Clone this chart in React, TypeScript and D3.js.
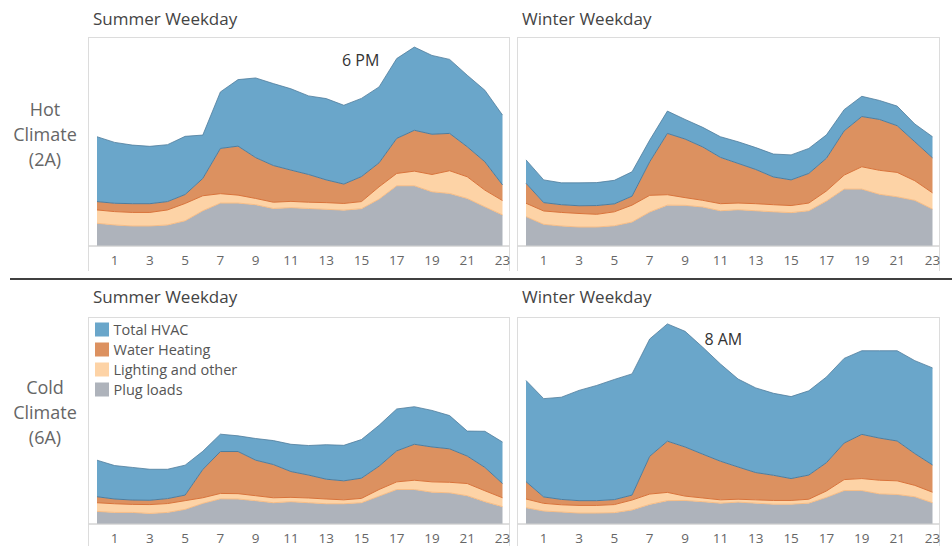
import React, { useRef, useEffect } from "react";
import { select, scaleLinear, stack, area, line } from "d3";

// hours of the day (x axis)
const hours = [0, 1, 2, 3, 4, 5, 6, 7, 8, 9, 10, 11, 12, 13, 14, 15, 16, 17, 18, 19, 20, 21, 22, 23];
const tickHours = [1, 3, 5, 7, 9, 11, 13, 15, 17, 19, 21, 23];

const columnTitles = ["Summer Weekday", "Winter Weekday"];
const rowLabels = [
  ["Hot", "Climate", "(2A)"],
  ["Cold", "Climate", "(6A)"],
];

// stacking order bottom -> top, legend order top -> bottom
const seriesKeys = ["plug", "light", "water", "hvac"];
const legendNames = ["Total HVAC", "Water Heating", "Lighting and other", "Plug loads"];

// Hot climate, summer weekday
const hotSummerPlug = [10.9, 10.1, 9.6, 9.6, 10.1, 12.1, 16.9, 20.6, 20.6, 19.8, 18.0, 18.4, 18.0, 17.6, 17.2, 17.9, 22.5, 28.9, 28.9, 26.0, 25.2, 22.8, 18.8, 14.9];
const hotSummerLight = [6.4, 6.4, 6.5, 6.5, 7.2, 8.3, 7.2, 4.5, 3.8, 3.0, 3.0, 3.0, 3.0, 3.2, 3.2, 3.4, 5.9, 5.9, 7.0, 8.3, 10.9, 10.4, 8.0, 6.9];
const hotSummerWater = [4.0, 4.0, 4.2, 4.2, 4.0, 4.3, 8.3, 21.7, 23.5, 19.6, 17.6, 15.0, 13.3, 10.9, 9.3, 12.0, 11.5, 16.8, 19.6, 19.3, 17.9, 14.4, 13.6, 7.5];
const hotSummerHvac = [31.1, 29.2, 28.1, 27.5, 27.3, 27.9, 20.8, 27.1, 31.9, 38.2, 39.3, 39.0, 37.7, 39.0, 37.8, 37.5, 36.4, 38.3, 39.9, 37.8, 35.5, 34.3, 34.3, 33.5];

// Hot climate, winter weekday
const hotWinterPlug = [14.1, 10.4, 9.6, 9.1, 9.1, 9.7, 11.5, 16.3, 19.6, 19.5, 18.7, 16.9, 17.4, 16.9, 16.4, 16.0, 16.9, 21.6, 27.3, 27.3, 24.8, 23.6, 21.9, 17.7];
const hotWinterLight = [6.4, 6.4, 6.5, 6.5, 6.1, 6.7, 8.1, 8.0, 5.0, 3.7, 3.2, 3.4, 3.2, 3.4, 3.4, 3.4, 3.7, 4.8, 6.7, 10.7, 11.5, 11.7, 9.4, 7.8];
const hotWinterWater = [9.6, 4.0, 3.7, 3.7, 4.2, 3.8, 4.3, 16.1, 29.4, 28.1, 25.6, 22.2, 19.0, 16.4, 13.3, 12.3, 14.2, 15.7, 21.2, 24.1, 24.4, 22.4, 18.7, 16.8];
const hotWinterHvac = [11.2, 10.9, 10.5, 11.0, 11.0, 11.3, 11.7, 10.4, 10.7, 9.4, 9.4, 9.9, 10.4, 10.5, 11.0, 12.0, 12.0, 11.2, 10.2, 9.7, 9.1, 9.4, 8.5, 10.1];

// Cold climate, summer weekday
const coldSummerPlug = [6.1, 5.6, 5.6, 5.1, 5.6, 7.1, 10.0, 12.2, 12.1, 11.3, 10.3, 10.8, 10.3, 9.8, 9.8, 10.3, 13.5, 16.7, 16.7, 15.4, 15.1, 13.7, 10.8, 8.4];
const coldSummerLight = [4.2, 4.2, 3.9, 4.3, 4.3, 4.2, 2.7, 2.6, 2.6, 2.4, 2.4, 2.1, 2.3, 2.3, 1.9, 2.1, 3.2, 3.7, 4.5, 5.0, 5.1, 5.9, 5.3, 4.3];
const coldSummerWater = [2.9, 2.3, 2.1, 2.1, 2.4, 2.7, 13.7, 20.3, 20.4, 17.2, 16.1, 12.5, 11.1, 9.6, 9.2, 9.8, 11.3, 15.0, 17.4, 16.9, 16.2, 13.3, 11.3, 6.9];
const coldSummerHvac = [17.7, 16.2, 15.8, 15.0, 14.2, 14.5, 8.8, 8.4, 7.6, 10.5, 11.6, 13.2, 14.3, 16.7, 17.2, 18.7, 19.8, 20.3, 18.2, 17.7, 16.1, 12.1, 17.5, 20.1];

// Cold climate, winter weekday
const coldWinterPlug = [7.9, 6.3, 5.8, 5.3, 5.3, 5.5, 6.8, 9.5, 11.3, 11.4, 10.8, 10.1, 10.6, 10.1, 9.6, 9.6, 10.1, 12.9, 16.2, 16.2, 14.6, 14.3, 13.2, 10.3];
const coldWinterLight = [4.2, 3.7, 3.5, 3.7, 3.7, 3.9, 4.8, 5.0, 4.0, 2.1, 1.8, 1.6, 1.4, 1.6, 1.8, 1.8, 1.9, 3.1, 5.3, 5.8, 6.6, 6.6, 5.5, 5.1];
const coldWinterWater = [8.4, 3.1, 2.6, 2.3, 2.3, 2.4, 2.4, 18.3, 24.8, 23.8, 21.2, 18.7, 15.6, 13.2, 12.2, 10.6, 11.7, 13.7, 17.7, 21.4, 20.4, 19.3, 15.4, 13.2];
const coldWinterHvac = [49.0, 47.6, 49.5, 53.4, 55.8, 58.2, 58.7, 56.8, 56.8, 56.0, 51.8, 47.1, 42.6, 41.0, 39.7, 39.7, 40.8, 41.5, 41.0, 40.5, 42.3, 43.7, 45.0, 47.0];

const panels = [
  { row: 0, col: 0, plug: hotSummerPlug, light: hotSummerLight, water: hotSummerWater, hvac: hotSummerHvac, note: { hour: 18, text: "6 PM", anchor: "end", dx: -35, dy: 19 } },
  { row: 0, col: 1, plug: hotWinterPlug, light: hotWinterLight, water: hotWinterWater, hvac: hotWinterHvac, note: null },
  { row: 1, col: 0, plug: coldSummerPlug, light: coldSummerLight, water: coldSummerWater, hvac: coldSummerHvac, note: null },
  { row: 1, col: 1, plug: coldWinterPlug, light: coldWinterLight, water: coldWinterWater, hvac: coldWinterHvac, note: { hour: 8, text: "8 AM", anchor: "start", dx: 37, dy: 21 } },
];

const fills: Record<string, string> = { hvac: "#6aa6ca", water: "#dc9160", light: "#fdd3a6", plug: "#aeb3bb" };
const edges: Record<string, string> = { hvac: "#4f7c9c", water: "#d9733a", light: "#f7bd86", plug: "#aeb3bb" };
const legendColors = ["#6aa6ca", "#dc9160", "#fdd3a6", "#aeb3bb"];

const W = 952;
const H = 546;
const FONT = "'Open Sans', 'Noto Sans', sans-serif";

const App = () => {
  const svgRef = useRef<SVGSVGElement>(null);

  useEffect(() => {
    const svg = select(svgRef.current);
    svg.selectAll("*").remove();

    const colX = [
      { x0: 88.5, x1: 509.5 },
      { x0: 517.5, x1: 939.5 },
    ];
    const rowY = [
      { top: 37.5, base: 246, bottom: 271, title: 25 },
      { top: 317.5, base: 524, bottom: 546, title: 303 },
    ];

    // row labels
    rowLabels.forEach((lines, r) => {
      const cy = r === 0 ? 135 : 413;
      lines.forEach((t, i) => {
        svg.append("text")
          .attr("x", 45)
          .attr("y", cy + (i - 1) * 25 + 6)
          .attr("text-anchor", "middle")
          .attr("font-family", FONT)
          .attr("font-size", 18)
          .attr("fill", "#666")
          .text(t);
      });
    });

    // separator between rows
    svg.append("line")
      .attr("x1", 10).attr("x2", W)
      .attr("y1", 279).attr("y2", 279)
      .attr("stroke", "#000").attr("stroke-width", 1.5);

    const stacker = stack<any>().keys(seriesKeys);

    panels.forEach((p) => {
      const { x0, x1 } = colX[p.col];
      const ry = rowY[p.row];

      const x = scaleLinear().domain([0, 23]).range([x0 + 8.5, x1 - 7]);
      const y = scaleLinear().domain([0, 100]).range([ry.base, ry.top]);

      const g = svg.append("g");

      // column title
      g.append("text")
        .attr("x", x0 + 4.5)
        .attr("y", ry.title)
        .attr("font-family", FONT)
        .attr("font-size", 17)
        .attr("fill", "#444")
        .text(columnTitles[p.col]);

      // frame
      g.append("rect")
        .attr("x", x0).attr("y", ry.top)
        .attr("width", x1 - x0).attr("height", ry.base - ry.top)
        .attr("fill", "none").attr("stroke", "#dcdcdc");
      // axis pane borders
      [x0, x1].forEach((xx) => {
        g.append("line")
          .attr("x1", xx).attr("x2", xx)
          .attr("y1", ry.base).attr("y2", ry.bottom)
          .attr("stroke", "#dcdcdc");
      });

      const rows = hours.map((h, i) => ({
        hour: h,
        plug: p.plug[i],
        light: p.light[i],
        water: p.water[i],
        hvac: p.hvac[i],
      }));
      const layers = stacker(rows);

      const areaGen = area<any>()
        .x((d) => x(d.data.hour))
        .y0((d) => y(d[0]))
        .y1((d) => y(d[1]));

      layers.forEach((layer) => {
        g.append("path")
          .datum(layer)
          .attr("d", areaGen)
          .attr("fill", fills[layer.key]);
      });

      const lowLine = line<any>().x((d) => x(d.data.hour)).y((d) => y(d[0]));
      const highLine = line<any>().x((d) => x(d.data.hour)).y((d) => y(d[1]));

      layers.forEach((layer) => {
        if (layer.key === "plug") return;
        g.append("path")
          .datum(layer)
          .attr("d", lowLine)
          .attr("fill", "none")
          .attr("stroke", edges[layer.key])
          .attr("stroke-width", 1);
      });
      const top = layers[layers.length - 1];
      g.append("path")
        .datum(top)
        .attr("d", highLine)
        .attr("fill", "none")
        .attr("stroke", edges.hvac)
        .attr("stroke-width", 0.8);

      // baseline
      g.append("line")
        .attr("x1", x0).attr("x2", x1)
        .attr("y1", ry.base).attr("y2", ry.base)
        .attr("stroke", "#d0d0d0");

      // x ticks
      g.selectAll(".tick")
        .data(tickHours)
        .enter()
        .append("text")
        .attr("x", (d) => x(d))
        .attr("y", ry.base + 19)
        .attr("text-anchor", "middle")
        .attr("font-family", FONT)
        .attr("font-size", 13.5)
        .attr("fill", "#666")
        .text((d) => d);

      // annotation
      if (p.note) {
        const total = layers[layers.length - 1][p.note.hour][1];
        g.append("text")
          .attr("x", x(p.note.hour) + p.note.dx)
          .attr("y", y(total) + p.note.dy)
          .attr("text-anchor", p.note.anchor)
          .attr("font-family", FONT)
          .attr("font-size", 16)
          .attr("fill", "#333")
          .text(p.note.text);
      }

      // legend (cold summer panel)
      if (p.row === 1 && p.col === 0) {
        legendNames.forEach((name, i) => {
          g.append("rect")
            .attr("x", x0 + 6.5)
            .attr("y", ry.top + 5 + i * 20)
            .attr("width", 14)
            .attr("height", 14)
            .attr("fill", legendColors[i]);
          g.append("text")
            .attr("x", x0 + 25)
            .attr("y", ry.top + 17 + i * 20)
            .attr("font-family", FONT)
            .attr("font-size", 14.5)
            .attr("fill", "#555")
            .text(name);
        });
      }
    });
  }, []);

  return (
    <svg
      ref={svgRef}
      width={W}
      height={H}
      style={{ position: "absolute", left: 0, top: 0, background: "#fff" }}
    />
  );
};

export default App;
